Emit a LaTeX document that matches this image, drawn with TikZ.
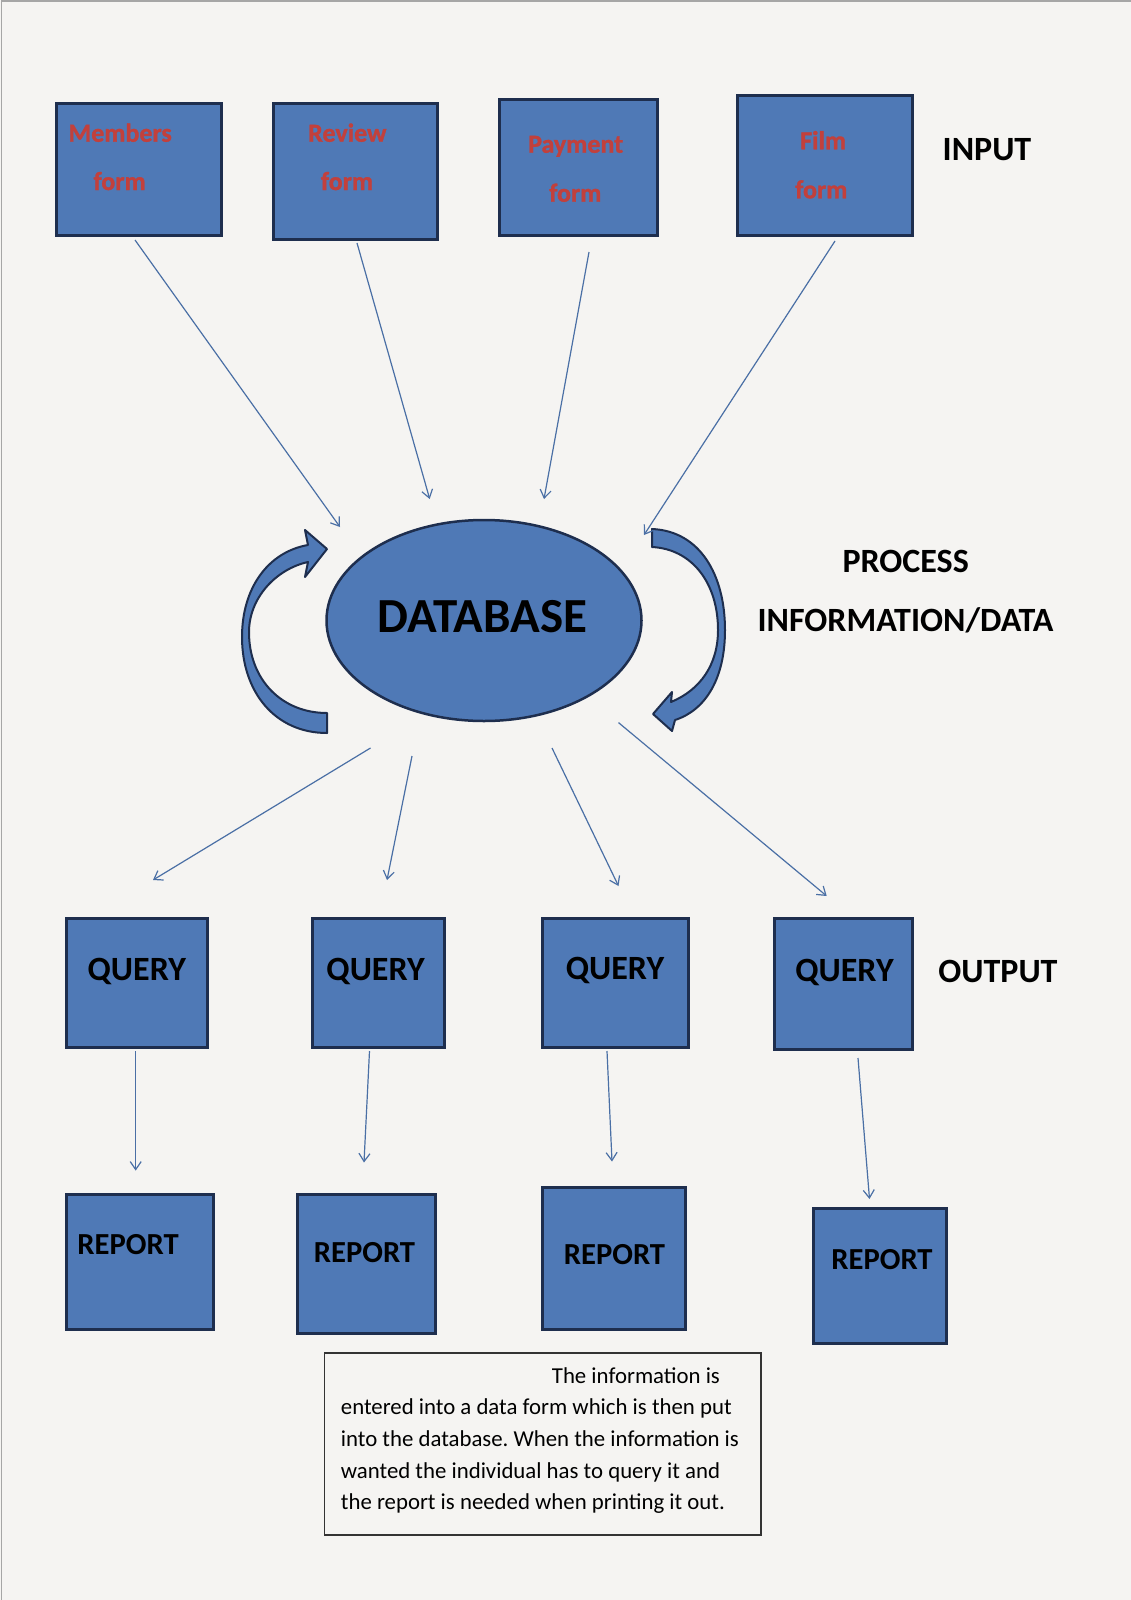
\documentclass[tikz,border=0pt]{standalone}
\usepackage{fontspec}
\setmainfont{Carlito}
\newfontfamily\redbold{Carlito Bold}[FakeBold=1.2]
\usetikzlibrary{arrows.meta,shapes.geometric}
\definecolor{bg}{HTML}{F5F4F2}
\definecolor{boxfill}{HTML}{4F79B6}
\definecolor{boxline}{HTML}{1E2E4E}
\definecolor{redtxt}{HTML}{C2403C}
\definecolor{thin}{HTML}{4A6FA5}
\begin{document}
\frenchspacing
\begin{tikzpicture}[x=1pt,y=-1pt,
 boxnode/.style={draw=boxline, fill=boxfill, line width=3pt, inner sep=0pt},
 redlbl/.style={text=redtxt, font=\fontsize{26}{26}\selectfont\redbold, inner sep=0pt, anchor=base west},
 blklbl/.style={font=\fontsize{34}{34}\selectfont\bfseries, inner sep=0pt},
 replbl/.style={font=\fontsize{30.6}{30.6}\selectfont\bfseries, inner sep=0pt},
 conn/.style={draw=thin, line width=1.2pt, -{Straight Barb[length=8pt,width=11pt]}},
 bigarrow/.style={fill=boxfill, draw=boxline, line width=2pt, line join=round},
]
\useasboundingbox (0,0) rectangle (1131,1600);
\fill[bg] (0,0) rectangle (1131,1600);
\draw[gray!70, line width=1.5pt] (1.5,1600) -- (1.5,1) -- (1131,1);

% input boxes
\node[boxnode, minimum width=164.5pt, minimum height=132pt] (mem) at (138.75,169.5) {};
\node[boxnode, minimum width=164.5pt, minimum height=136pt] (rev) at (355.25,171.5) {};
\node[boxnode, minimum width=158pt, minimum height=136pt] (pay) at (578.5,167.5) {};
\node[boxnode, minimum width=174.5pt, minimum height=140pt] (film) at (824.75,165.5) {};

\node[redlbl] (memA) at (68.3,141.7) {Members};
\node[redlbl] (memB) at (93.3,190) {form};
\node[redlbl] (revA) at (308,141.7) {Review};
\node[redlbl] (revB) at (320.7,190) {form};
\node[redlbl] (payA) at (528,152.7) {Payment};
\node[redlbl] (payB) at (549,201.7) {form};
\node[redlbl] (filmA) at (800,149.3) {Film};
\node[redlbl] (filmB) at (795,198.3) {form};

\node[blklbl] (input) at (987,150) {INPUT};

% database
\node[ellipse, draw=boxline, fill=boxfill, line width=2.5pt, minimum width=315pt, minimum height=201pt, inner sep=0pt] (db) at (484,620.5) {};
\node[font=\fontsize{49}{49}\selectfont\bfseries, inner sep=0pt] (dbt) at (482.3,616.5) {DATABASE};

\node[blklbl] (proc) at (905.7,561) {PROCESS};
\node[blklbl] (info) at (905.5,620.5) {INFORMATION/DATA};

% curved block arrows
\filldraw[bigarrow]
 (327,733) .. controls (275,733) and (242,692) .. (242,637)
 .. controls (242,588) and (268,552) .. (308,545)
 -- (305,530) -- (327,549) -- (305,577) -- (308,562)
 .. controls (276,569) and (249,598) .. (249,632)
 .. controls (249,680) and (282,713) .. (327,713) -- cycle;
\filldraw[bigarrow]
 (652,529) .. controls (700,531) and (725,575) .. (725,630)
 .. controls (725,678) and (706,710) .. (675,720)
 -- (672,731) -- (653,714) -- (672,692) -- (671,702)
 .. controls (700,690) and (718,665) .. (718,630)
 .. controls (718,583) and (692,549) .. (652,547) -- cycle;

% query boxes
\node[boxnode, minimum width=141pt, minimum height=129.5pt] (q1) at (137,982.75) {};
\node[boxnode, minimum width=132pt, minimum height=129.5pt] (q2) at (378.5,982.75) {};
\node[boxnode, minimum width=146pt, minimum height=129.5pt] (q3) at (615.5,982.75) {};
\node[boxnode, minimum width=138pt, minimum height=131.5pt] (q4) at (843,983.75) {};
\node[blklbl] (q1t) at (136.8,971.6) {QUERY};
\node[blklbl] (q2t) at (375.6,971.6) {QUERY};
\node[blklbl] (q3t) at (615,970.6) {QUERY};
\node[blklbl] (q4t) at (844.5,972.6) {QUERY};
\node[blklbl] (output) at (998,971.6) {OUTPUT};

% report boxes
\node[boxnode, minimum width=147pt, minimum height=135pt] (r1) at (140,1262) {};
\node[boxnode, minimum width=138pt, minimum height=139pt] (r2) at (366.5,1264) {};
\node[boxnode, minimum width=143pt, minimum height=142pt] (r3) at (614,1258.5) {};
\node[boxnode, minimum width=133pt, minimum height=135pt] (r4) at (880,1276) {};
\node[replbl] (r1t) at (128.1,1245) {REPORT};
\node[replbl] (r2t) at (364.5,1253) {REPORT};
\node[replbl] (r3t) at (614.5,1255) {REPORT};
\node[replbl] (r4t) at (882,1260) {REPORT};

% connector end points
\coordinate (a1s) at (135,240);   \coordinate (a1e) at (340,527);
\coordinate (a2s) at (357,243);   \coordinate (a2e) at (429.7,499);
\coordinate (a3s) at (589,252);   \coordinate (a3e) at (544,499);
\coordinate (a4s) at (835,241);   \coordinate (a4e) at (644,535);
\coordinate (b1s) at (370.5,748); \coordinate (b1e) at (153,880);
\coordinate (b2s) at (412,756);   \coordinate (b2e) at (387,880);
\coordinate (b3s) at (552,748);   \coordinate (b3e) at (618.5,886);
\coordinate (b4s) at (618.5,722.6); \coordinate (b4e) at (826.7,896);
\coordinate (c1s) at (135.7,1051); \coordinate (c1e) at (135.7,1170.6);
\coordinate (c2s) at (369.5,1051); \coordinate (c2e) at (364,1162.5);
\coordinate (c3s) at (607,1051);   \coordinate (c3e) at (612,1161.5);
\coordinate (c4s) at (858,1058);   \coordinate (c4e) at (869.5,1199);

\foreach \p in {a1,a2,a3,a4,b1,b2,b3,b4,c1,c2,c3,c4}{
  \draw[conn] (\p s) -- (\p e);
}

% explanation box
\node[draw=black!80, fill=bg, line width=1.2pt, minimum width=436.5pt, minimum height=182pt, inner sep=0pt] (note) at (542.75,1444) {};
\node[anchor=north west, align=left, inner sep=0pt, font=\fontsize{22.8}{31.67}\selectfont] (notet) at (340.7,1367) {\hspace*{211pt}The information is\\entered into a data form which is then put\\into the database. When the information is\\wanted the individual has to query it and\\the report is needed when printing it out.};
\end{tikzpicture}
\end{document}
